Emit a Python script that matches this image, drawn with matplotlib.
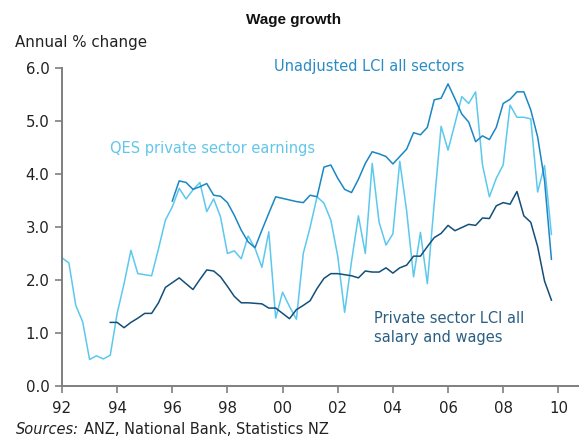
import matplotlib
matplotlib.use("Agg")
import matplotlib.pyplot as plt
import numpy as np

# QES private sector earnings, quarterly from 1992 Q1 (x = 92.0)
qes_start = 92.0
qes = [2.42, 2.32, 1.52, 1.21, 0.50, 0.57, 0.51, 0.58,
       1.37, 1.93, 2.56, 2.12, 2.10, 2.08, 2.59, 3.13,
       3.38, 3.73, 3.53, 3.70, 3.84, 3.29, 3.53, 3.19,
       2.50, 2.55, 2.40, 2.83, 2.60, 2.24, 2.91, 1.28,
       1.77, 1.50, 1.26, 2.50, 3.00, 3.57, 3.45, 3.13,
       2.45, 1.39, 2.35, 3.21, 2.50, 4.20, 3.09, 2.66,
       2.87, 4.24, 3.30, 2.06, 2.90, 1.93, 3.45, 4.90,
       4.45, 4.95, 5.46, 5.33, 5.55, 4.17, 3.57, 3.92,
       4.17, 5.30, 5.07, 5.07, 5.04, 3.66, 4.16, 2.86]

# Unadjusted LCI all sectors, quarterly from x = 96.0
lci_start = 96.0
lci = [3.49, 3.87, 3.84, 3.71, 3.76, 3.82, 3.60, 3.58,
       3.46, 3.22, 2.94, 2.72, 2.61, 2.94, 3.26, 3.57,
       3.54, 3.51, 3.48, 3.46, 3.60, 3.57, 4.13, 4.17,
       3.92, 3.71, 3.65, 3.90, 4.20, 4.42, 4.38, 4.33,
       4.19, 4.33, 4.47, 4.78, 4.74, 4.88, 5.40, 5.43,
       5.70, 5.42, 5.13, 4.98, 4.61, 4.72, 4.65, 4.88,
       5.33, 5.41, 5.55, 5.55, 5.21, 4.70, 3.88, 2.39]

# Private sector LCI all salary and wages, quarterly from x = 93.75
priv_start = 93.75
priv = [1.20, 1.20, 1.10, 1.20, 1.28, 1.37, 1.37, 1.57,
        1.86, 1.95, 2.04, 1.93, 1.82, 2.01, 2.19, 2.17,
        2.06, 1.88, 1.69, 1.57, 1.57, 1.56, 1.55, 1.47,
        1.47, 1.37, 1.27, 1.44, 1.52, 1.61, 1.84, 2.03,
        2.12, 2.12, 2.10, 2.08, 2.04, 2.17, 2.15, 2.15,
        2.23, 2.13, 2.23, 2.28, 2.45, 2.45, 2.63, 2.80,
        2.88, 3.03, 2.93, 2.99, 3.05, 3.03, 3.17, 3.16,
        3.40, 3.46, 3.43, 3.67, 3.21, 3.09, 2.63, 1.98, 1.62]

xtick_years = [92, 94, 96, 98, 100, 102, 104, 106, 108, 110]
xtick_labels = ["92", "94", "96", "98", "00", "02", "04", "06", "08", "10"]
ytick_vals = [0.0, 1.0, 2.0, 3.0, 4.0, 5.0, 6.0]

c_qes = "#5CC8EE"
c_lci = "#1A87C4"
c_priv = "#134F79"

def qx(start, n):
    return start + 0.25 * np.arange(n)

plt.rcParams["font.family"] = ["DejaVu Sans"]

fig = plt.figure(figsize=(5.79, 4.37), dpi=100)
ax = fig.add_axes([62/579, 1 - 386/437, 1 - 62/579, (386 - 68)/437])

ax.plot(qx(qes_start, len(qes)), qes, color=c_qes, lw=1.1)
ax.plot(qx(lci_start, len(lci)), lci, color=c_lci, lw=1.1)
ax.plot(qx(priv_start, len(priv)), priv, color=c_priv, lw=1.1)

ax.set_xlim(92, 110.75)
ax.set_ylim(0, 6)
ax.set_xticks(xtick_years)
ax.set_xticklabels(xtick_labels)
ax.set_yticks(ytick_vals)
ax.set_yticklabels([f"{v:.1f}" for v in ytick_vals])

for s in ["top", "right"]:
    ax.spines[s].set_visible(False)
for s in ["left", "bottom"]:
    ax.spines[s].set_color("#7f7f7f")
    ax.spines[s].set_linewidth(1.4)
ax.tick_params(axis="both", colors="#7f7f7f", labelcolor="#222222",
               labelsize=10.8, length=5, width=1.2, direction="out")
ax.tick_params(axis="x", pad=6)
ax.tick_params(axis="y", pad=4)
ax.patch.set_alpha(0)

fig.text(293.5/579, 1 - 20/437, "Wage growth", ha="center", va="center",
         fontsize=11, fontweight="bold", color="#111111",
         family="Liberation Sans")
fig.text(15/579, 1 - 43/437, "Annual % change", ha="left", va="center",
         fontsize=10.8, color="#222222")

fig.text(274/579, 1 - 67/437, "Unadjusted LCI all sectors", ha="left",
         va="center", fontsize=10.5, color="#2A8CC6")
fig.text(110/579, 1 - 149/437, "QES private sector earnings", ha="left",
         va="center", fontsize=10.5, color="#62C6EA")
fig.text(374/579, 1 - 328/437, "Private sector LCI all\nsalary and wages",
         ha="left", va="center", fontsize=10.5, color="#2B5E83",
         linespacing=1.35)

fig.text(16/579, 1 - 430/437, "Sources:", ha="left", va="center",
         fontsize=10.5, style="italic", color="#222222")
fig.text(84/579, 1 - 430/437, "ANZ, National Bank, Statistics NZ", ha="left",
         va="center", fontsize=10.5, color="#222222")

fig.savefig("out.png", dpi=100)
